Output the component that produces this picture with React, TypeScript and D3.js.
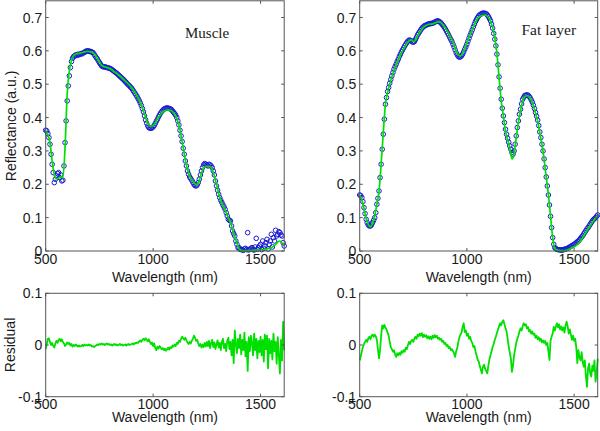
import React from 'react';
import * as d3 from 'd3';

// ---------- data ----------
const X_TICKS = [500, 1000, 1500];
const SPEC_Y_TICKS = [0, 0.1, 0.2, 0.3, 0.4, 0.5, 0.6, 0.7];
const RES_Y_TICKS = [-0.1, 0, 0.1];

// fitted spectra sampled every 10 nm from 500 to 1610 nm
const WL_FIT = d3.range(500, 1611, 10);
// measured spectra and residuals sampled every 5 nm from 500 to 1610 nm
const WL_5 = d3.range(500, 1611, 5);

const muscleMeasured = [
  0.362, 0.36, 0.352, 0.34, 0.32, 0.29, 0.26, 0.235, 0.205, 0.215,
  0.225, 0.232, 0.235, 0.22, 0.228, 0.21, 0.212, 0.255, 0.325, 0.39,
  0.45, 0.495, 0.525, 0.55, 0.568, 0.578, 0.583, 0.585, 0.588, 0.586,
  0.59, 0.588, 0.59, 0.592, 0.591, 0.594, 0.596, 0.597, 0.6, 0.599,
  0.6, 0.598, 0.598, 0.596, 0.595, 0.59, 0.585, 0.58, 0.576, 0.57,
  0.565, 0.56, 0.555, 0.553, 0.552, 0.552, 0.551, 0.55, 0.549, 0.548,
  0.547, 0.545, 0.543, 0.54, 0.538, 0.535, 0.533, 0.53, 0.527, 0.524,
  0.521, 0.518, 0.515, 0.512, 0.508, 0.505, 0.501, 0.498, 0.495, 0.491,
  0.488, 0.483, 0.478, 0.473, 0.468, 0.463, 0.457, 0.451, 0.444, 0.436,
  0.427, 0.417, 0.405, 0.393, 0.383, 0.375, 0.37, 0.368, 0.368, 0.369,
  0.372, 0.376, 0.382, 0.389, 0.395, 0.402, 0.408, 0.414, 0.418, 0.422,
  0.425, 0.427, 0.428, 0.429, 0.428, 0.427, 0.426, 0.424, 0.42, 0.416,
  0.412, 0.407, 0.4, 0.39, 0.378, 0.362, 0.345, 0.328, 0.308, 0.29,
  0.27, 0.255, 0.24, 0.23, 0.222, 0.217, 0.212, 0.206, 0.2, 0.196,
  0.195, 0.198, 0.205, 0.215, 0.228, 0.24, 0.25, 0.258, 0.262, 0.26,
  0.258, 0.255, 0.26, 0.258, 0.255, 0.25, 0.24, 0.228, 0.21, 0.195,
  0.182, 0.17, 0.16, 0.152, 0.145, 0.138, 0.132, 0.125, 0.115, 0.105,
  0.095, 0.092, 0.09, 0.075, 0.06, 0.052, 0.045, 0.03, 0.02, 0.01,
  0.01, 0.005, 0.005, 0.003, 0.002, 0.006, 0.008, 0.004, 0.055, 0.003,
  0.005, 0.008, 0.01, 0.004, 0.003, 0.012, 0.038, 0.005, 0.01, 0.015,
  0.02, 0.004, 0.03, 0.008, 0.015, 0.025, 0.035, 0.006, 0.02, 0.03,
  0.05, 0.012, 0.04, 0.03, 0.062, 0.045, 0.05, 0.058, 0.055, 0.048,
  0.045, 0.025, 0.015,
];

const muscleFit = [
  0.36, 0.35, 0.325, 0.27, 0.23, 0.216, 0.218, 0.222, 0.22, 0.31,
  0.47, 0.54, 0.572, 0.585, 0.59, 0.592, 0.593, 0.595, 0.597, 0.598,
  0.598, 0.597, 0.594, 0.588, 0.578, 0.567, 0.557, 0.553, 0.551, 0.549,
  0.546, 0.542, 0.537, 0.532, 0.527, 0.522, 0.516, 0.51, 0.504, 0.497,
  0.49, 0.481, 0.47, 0.458, 0.445, 0.43, 0.41, 0.39, 0.378, 0.374,
  0.376, 0.385, 0.396, 0.405, 0.413, 0.419, 0.422, 0.423, 0.421, 0.418,
  0.41, 0.398, 0.378, 0.345, 0.31, 0.272, 0.245, 0.226, 0.214, 0.205,
  0.199, 0.202, 0.222, 0.243, 0.252, 0.254, 0.254, 0.25, 0.237, 0.212,
  0.186, 0.162, 0.142, 0.13, 0.115, 0.1, 0.085, 0.064, 0.043, 0.023,
  0.006, 0.002, 0.001, 0.001, 0.001, 0.001, 0.002, 0.002, 0.003, 0.003,
  0.004, 0.004, 0.005, 0.006, 0.008, 0.01, 0.014, 0.02, 0.027, 0.03,
  0.024, 0.016,
];

const fatMeasured = [
  0.168, 0.166, 0.16, 0.148, 0.13, 0.112, 0.095, 0.085, 0.078, 0.075,
  0.075, 0.078, 0.085, 0.092, 0.1, 0.115, 0.14, 0.158, 0.18, 0.22,
  0.26, 0.305, 0.35, 0.395, 0.44, 0.46, 0.478, 0.49, 0.503, 0.514,
  0.525, 0.535, 0.545, 0.553, 0.56, 0.568, 0.575, 0.583, 0.59, 0.597,
  0.603, 0.609, 0.615, 0.62, 0.625, 0.629, 0.632, 0.632, 0.63, 0.627,
  0.626, 0.628, 0.634, 0.641, 0.648, 0.653, 0.658, 0.663, 0.668, 0.671,
  0.674, 0.676, 0.677, 0.679, 0.68, 0.681, 0.682, 0.682, 0.683, 0.684,
  0.686, 0.688, 0.689, 0.69, 0.688, 0.686, 0.683, 0.679, 0.675, 0.67,
  0.665, 0.659, 0.653, 0.647, 0.64, 0.634, 0.628, 0.62, 0.612, 0.603,
  0.594, 0.588, 0.583, 0.581, 0.582, 0.585, 0.59, 0.597, 0.605, 0.612,
  0.62, 0.629, 0.638, 0.647, 0.655, 0.663, 0.672, 0.68, 0.688, 0.694,
  0.7, 0.705, 0.708, 0.71, 0.712, 0.713, 0.713, 0.712, 0.711, 0.708,
  0.703, 0.697, 0.69, 0.68, 0.668, 0.652, 0.635, 0.615, 0.59, 0.558,
  0.522, 0.488, 0.455, 0.428, 0.405, 0.385, 0.365, 0.35, 0.338, 0.326,
  0.315, 0.305, 0.295, 0.29, 0.3, 0.32, 0.345, 0.37, 0.39, 0.41,
  0.425, 0.441, 0.455, 0.461, 0.466, 0.467, 0.468, 0.467, 0.464, 0.459,
  0.453, 0.446, 0.437, 0.427, 0.415, 0.404, 0.392, 0.376, 0.357, 0.34,
  0.32, 0.3, 0.276, 0.25, 0.222, 0.195, 0.168, 0.138, 0.104, 0.07,
  0.04, 0.02, 0.01, 0.007, 0.005, 0.004, 0.004, 0.003, 0.003, 0.003,
  0.004, 0.005, 0.006, 0.007, 0.008, 0.01, 0.012, 0.014, 0.016, 0.018,
  0.02, 0.022, 0.025, 0.028, 0.03, 0.034, 0.038, 0.042, 0.046, 0.051,
  0.056, 0.061, 0.066, 0.07, 0.075, 0.08, 0.085, 0.09, 0.094, 0.097,
  0.1, 0.104, 0.108,
];

const fatFit = [
  0.165, 0.155, 0.128, 0.098, 0.08, 0.073, 0.082, 0.105, 0.14, 0.178,
  0.26, 0.355, 0.44, 0.475, 0.5, 0.522, 0.542, 0.558, 0.573, 0.587,
  0.6, 0.612, 0.622, 0.63, 0.633, 0.628, 0.632, 0.645, 0.655, 0.665,
  0.672, 0.676, 0.679, 0.68, 0.681, 0.683, 0.686, 0.687, 0.684, 0.677,
  0.668, 0.657, 0.645, 0.632, 0.617, 0.6, 0.588, 0.585, 0.592, 0.607,
  0.623, 0.64, 0.656, 0.671, 0.685, 0.697, 0.703, 0.706, 0.707, 0.706,
  0.7, 0.69, 0.67, 0.64, 0.592, 0.52, 0.45, 0.405, 0.36, 0.333,
  0.31, 0.276, 0.29, 0.34, 0.385, 0.42, 0.45, 0.462, 0.466, 0.462,
  0.452, 0.435, 0.413, 0.39, 0.355, 0.32, 0.275, 0.222, 0.17, 0.105,
  0.04, 0.007, 0.003, 0.002, 0.001, 0.001, 0.002, 0.003, 0.006, 0.01,
  0.013, 0.017, 0.022, 0.03, 0.04, 0.05, 0.061, 0.071, 0.081, 0.09,
  0.099, 0.106,
];

const muscleResidual = [
  -0.008, 0.002, 0.012, 0.013, 0.006, 0.0, 0.004, -0.002, -0.005, 0.003,
  0.008, 0.004, 0.01, 0.012, 0.007, 0.011, 0.006, 0.003, -0.002, 0.001,
  0.005, 0.002, 0.004, -0.001, 0.002, -0.003, 0.0, -0.002, 0.001, -0.001,
  -0.003, -0.001, -0.003, -0.002, 0.0, -0.002, 0.001, -0.001, 0.0, -0.001,
  0.001, -0.001, 0.0, -0.003, -0.002, -0.004, -0.002, -0.001, 0.001, 0.0,
  0.002, 0.001, 0.003, 0.001, 0.002, 0.0, 0.002, 0.003, 0.001, 0.002,
  0.0, 0.001, -0.001, 0.001, 0.002, 0.0, 0.001, -0.001, 0.0, 0.002,
  0.0, 0.001, -0.001, 0.0, 0.001, -0.001, 0.001, 0.002, 0.0, 0.001,
  0.002, 0.003, 0.001, 0.004, 0.003, 0.005, 0.004, 0.007, 0.009, 0.006,
  0.01, 0.012, 0.009, 0.013, 0.01, 0.007, 0.011, 0.006, 0.002, 0.005,
  -0.002, 0.003, -0.006, -0.01, -0.003, -0.007, -0.002, -0.005, -0.008, -0.006,
  -0.01, -0.007, -0.011, -0.008, -0.005, -0.009, -0.004, -0.006, -0.001, -0.003,
  0.001, -0.002, 0.004, 0.002, 0.008, 0.006, 0.012, 0.016, 0.013, 0.01,
  0.014, 0.009, 0.005, 0.002, 0.006, 0.003, 0.008, 0.012, 0.018, 0.014,
  0.008, 0.01, 0.003, -0.002, 0.002, -0.005, 0.001, -0.004, 0.004, -0.003,
  0.006, -0.002, 0.008, -0.006, 0.003, 0.01, -0.004, 0.005, -0.008, 0.002,
  0.009, -0.005, 0.004, -0.01, 0.006, 0.012, -0.006, 0.002, -0.012, 0.008,
  0.014, -0.008, 0.006, -0.02, 0.01, -0.035, 0.028, 0.004, -0.016, 0.012,
  -0.006, 0.02, -0.018, 0.01, -0.01, 0.024, -0.022, 0.006, -0.05, 0.015,
  -0.012, 0.018, 0.004, -0.02, 0.022, -0.01, 0.012, -0.026, 0.008, -0.014,
  0.016, -0.02, 0.01, -0.032, 0.02, -0.008, 0.018, -0.045, 0.012, -0.016,
  0.008, -0.028, 0.022, -0.012, 0.006, -0.036, 0.015, -0.02, -0.055, 0.01,
  -0.03, 0.045, -0.01,
];

const fatResidual = [
  -0.03, -0.022, -0.012, -0.004, 0.002, 0.006, 0.01, 0.006, 0.013, 0.016,
  0.011, 0.018, 0.02, 0.016, 0.02, 0.017, 0.01, -0.008, -0.026, -0.01,
  0.018, 0.038, 0.032, 0.039, 0.034, 0.03, 0.024, 0.018, 0.006, -0.004,
  -0.008, -0.013, -0.01, -0.018, -0.023, -0.016, -0.02, -0.015, -0.019, -0.012,
  -0.015, -0.01, -0.013, -0.005, -0.008, 0.0, 0.006, 0.002, 0.008, 0.01,
  0.006, 0.012, 0.016, 0.012, 0.02, 0.017, 0.022, 0.018, 0.023, 0.015,
  0.02, 0.016, 0.019, 0.013, 0.017, 0.012, 0.016, 0.011, 0.018, 0.014,
  0.019, 0.015, 0.018, 0.012, 0.014, 0.01, 0.012, 0.006, 0.008, 0.002,
  0.004, -0.002, 0.0, -0.006, -0.004, -0.01, -0.008, -0.012, -0.016, -0.023,
  -0.012, -0.006, 0.006, 0.015, 0.02, 0.024, 0.035, 0.042, 0.025, 0.028,
  0.018, 0.022, 0.012, 0.016, 0.008, 0.004, -0.004, -0.002, -0.012, -0.02,
  -0.028, -0.032, -0.04, -0.048, -0.055, -0.042, -0.038, -0.046, -0.05, -0.055,
  -0.04, -0.028, -0.02, -0.012, -0.004, 0.002, 0.01, 0.016, 0.023, 0.03,
  0.036, 0.042, 0.038, 0.045, 0.048, 0.04, 0.033, 0.026, 0.012, -0.003,
  -0.015, -0.026, -0.052, -0.04, -0.02, -0.008, 0.004, 0.012, 0.018, 0.026,
  0.032, 0.028, 0.036, 0.042, 0.038, 0.04, 0.032, 0.035, 0.026, 0.029,
  0.022, 0.026, 0.02, 0.022, 0.014, 0.018, 0.011, 0.015, 0.008, 0.012,
  0.005, 0.009, 0.004, 0.008, 0.0, 0.004, -0.012, -0.029, 0.008, 0.016,
  0.022, 0.035, 0.028, 0.036, 0.042, 0.034, 0.04, 0.03, 0.036, 0.028,
  0.034, 0.024, 0.038, 0.045, 0.036, 0.022, 0.03, 0.02, 0.01, 0.018,
  0.008, 0.012, -0.004, -0.035, -0.01, -0.024, -0.03, -0.014, -0.032, -0.042,
  -0.03, -0.06, -0.081, -0.045, -0.036, -0.055, -0.061, -0.04, -0.05, -0.03,
  -0.071, -0.055, -0.026,
];

// ---------- styling ----------
const FONT = 'Arial, "Liberation Sans", sans-serif';
const SERIF = '"Times New Roman", "Liberation Serif", serif';
const FRAME = '#555';
const TEXT = '#1a1a1a';
const BLUE = '#1a1ad2';
const GREEN = '#00e000';
const TICK = 3;

type Box = { x0: number; x1: number; y0: number; y1: number };
type Scale = d3.ScaleLinear<number, number>;

function Frame({
  box, yDomain, yTicks, xLabelBaseline, yLabel, children,
}: {
  box: Box; yDomain: [number, number]; yTicks: number[];
  xLabelBaseline: number; yLabel?: { text: string; x: number };
  children: (x: Scale, y: Scale) => React.ReactNode;
}) {
  const x = d3.scaleLinear().domain([500, 1610]).range([box.x0, box.x1]);
  const y = d3.scaleLinear().domain(yDomain).range([box.y1, box.y0]);
  const cx = (box.x0 + box.x1) / 2;
  const cy = (box.y0 + box.y1) / 2;
  return (
    <g>
      {children(x, y)}
      <rect x={box.x0} y={box.y0} width={box.x1 - box.x0} height={box.y1 - box.y0}
        fill="none" stroke={FRAME} strokeWidth={1} />
      {X_TICKS.map((t) => (
        <g key={'x' + t}>
          <line x1={x(t)} x2={x(t)} y1={box.y1} y2={box.y1 - TICK} stroke={FRAME} />
          <line x1={x(t)} x2={x(t)} y1={box.y0} y2={box.y0 + TICK} stroke={FRAME} />
          <text x={x(t)} y={box.y1 + 12.5} textAnchor="middle" fontSize={14}
            fontFamily={FONT} fill={TEXT}>{t}</text>
        </g>
      ))}
      {yTicks.map((t) => (
        <g key={'y' + t}>
          <line x1={box.x0} x2={box.x0 + TICK} y1={y(t)} y2={y(t)} stroke={FRAME} />
          <line x1={box.x1} x2={box.x1 - TICK} y1={y(t)} y2={y(t)} stroke={FRAME} />
          <text x={box.x0 - 3.5} y={y(t)} dy="0.36em" textAnchor="end" fontSize={14}
            fontFamily={FONT} fill={TEXT}>{String(t)}</text>
        </g>
      ))}
      <text x={cx} y={xLabelBaseline} textAnchor="middle" fontSize={14}
        fontFamily={FONT} fill={TEXT}>Wavelength (nm)</text>
      {yLabel && (
        <text transform={`translate(${yLabel.x},${cy}) rotate(-90)`} textAnchor="middle"
          fontSize={14} fontFamily={FONT} fill={TEXT}>{yLabel.text}</text>
      )}
    </g>
  );
}

function Spectrum({ measured, fit, x, y }: {
  measured: number[]; fit: number[]; x: Scale; y: Scale;
}) {
  const line = d3.line<number>().x((_, i) => x(WL_FIT[i])).y((d) => y(d)).curve(d3.curveMonotoneX);
  return (
    <g>
      {measured.map((v, i) => (
        <circle key={i} cx={x(WL_5[i])} cy={y(v)} r={2.3} fill="none"
          stroke={BLUE} strokeWidth={1} />
      ))}
      <path d={line(fit) || ''} fill="none" stroke={GREEN} strokeWidth={1.7} />
    </g>
  );
}

function Residual({ values, x, y }: { values: number[]; x: Scale; y: Scale }) {
  const line = d3.line<number>().x((_, i) => x(WL_5[i])).y((d) => y(d));
  return <path d={line(values) || ''} fill="none" stroke={GREEN} strokeWidth={1.8}
    strokeLinejoin="round" />;
}

export default function App() {
  const TL: Box = { x0: 45.7, x1: 284.2, y0: 0.8, y1: 251 };
  const TR: Box = { x0: 359.7, x1: 597.7, y0: 0.8, y1: 251 };
  const BL: Box = { x0: 45.7, x1: 284.2, y0: 293.3, y1: 396.7 };
  const BR: Box = { x0: 359.7, x1: 597.7, y0: 293.3, y1: 396.7 };
  return (
    <svg width={600} height={431} style={{ position: 'absolute', left: 0, top: 0, background: '#fff' }}>
      <rect x={0} y={0} width={600} height={431} fill="#fff" />
      <Frame box={TL} yDomain={[0, 0.75]} yTicks={SPEC_Y_TICKS} xLabelBaseline={282}
        yLabel={{ text: 'Reflectance (a.u.)', x: 16 }}>
        {(x, y) => <Spectrum measured={muscleMeasured} fit={muscleFit} x={x} y={y} />}
      </Frame>
      <Frame box={TR} yDomain={[0, 0.75]} yTicks={SPEC_Y_TICKS} xLabelBaseline={282}>
        {(x, y) => <Spectrum measured={fatMeasured} fit={fatFit} x={x} y={y} />}
      </Frame>
      <Frame box={BL} yDomain={[-0.1, 0.1]} yTicks={RES_Y_TICKS} xLabelBaseline={422}
        yLabel={{ text: 'Residual', x: 15 }}>
        {(x, y) => <Residual values={muscleResidual} x={x} y={y} />}
      </Frame>
      <Frame box={BR} yDomain={[-0.1, 0.1]} yTicks={RES_Y_TICKS} xLabelBaseline={422}>
        {(x, y) => <Residual values={fatResidual} x={x} y={y} />}
      </Frame>
      <text x={185} y={38} fontSize={15} fontFamily={SERIF} fill={TEXT}>Muscle</text>
      <text x={521.5} y={35} fontSize={15.5} fontFamily={SERIF} fill={TEXT}>Fat layer</text>
    </svg>
  );
}
